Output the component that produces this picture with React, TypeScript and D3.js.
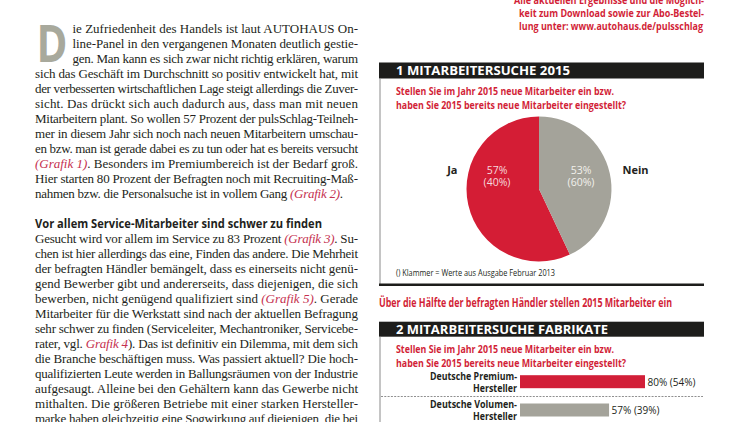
import React from "react";
import * as d3 from "d3";

// ---------- text content ----------
const introLines = [
  "ie Zufriedenheit des Handels ist laut AUTOHAUS On-",
  "line-Panel in den vergangenen Monaten deutlich gestie-",
  "gen. Man kann es sich zwar nicht richtig erklären, warum",
  "sich das Geschäft im Durchschnitt so positiv entwickelt hat, mit",
  "der verbesserten wirtschaftlichen Lage steigt allerdings die Zuver-",
  "sicht. Das drückt sich auch dadurch aus, dass man mit neuen",
  "Mitarbeitern plant. So wollen 57 Prozent der pulsSchlag-Teilneh-",
  "mer in diesem Jahr sich noch nach neuen Mitarbeitern umschau-",
  "en bzw. man ist gerade dabei es zu tun oder hat es bereits versucht",
  "{(Grafik 1)}. Besonders im Premiumbereich ist der Bedarf groß.",
  "Hier starten 80 Prozent der Befragten noch mit Recruiting-Maß-",
  "nahmen bzw. die Personalsuche ist in vollem Gang {(Grafik 2)}.",
];
const dropCap = "D";
const subheading = "Vor allem Service-Mitarbeiter sind schwer zu finden";
const secondLines = [
  "Gesucht wird vor allem im Service zu 83 Prozent {(Grafik 3)}. Su-",
  "chen ist hier allerdings das eine, Finden das andere. Die Mehrheit",
  "der befragten Händler bemängelt, dass es einerseits nicht genü-",
  "gend Bewerber gibt und andererseits, dass diejenigen, die sich",
  "bewerben, nicht genügend qualifiziert sind {(Grafik 5)}. Gerade",
  "Mitarbeiter für die Werkstatt sind nach der aktuellen Befragung",
  "sehr schwer zu finden (Serviceleiter, Mechantroniker, Servicebe-",
  "rater, vgl. {Grafik 4}). Das ist definitiv ein Dilemma, mit dem sich",
  "die Branche beschäftigen muss. Was passiert aktuell? Die hoch-",
  "qualifizierten Leute werden in Ballungsräumen von der Industrie",
  "aufgesaugt. Alleine bei den Gehältern kann das Gewerbe nicht",
  "mithalten. Die größeren Betriebe mit einer starken Hersteller-",
  "marke haben gleichzeitig eine Sogwirkung auf diejenigen, die bei",
];
const infoLines = [
  "Alle aktuellen Ergebnisse und die Möglich-",
  "keit zum Download sowie zur Abo-Bestel-",
  "lung unter: www.autohaus.de/pulsschlag",
];

// ---------- chart 1 ----------
const chart1Title = "1 MITARBEITERSUCHE 2015";
const questionLines = [
  "Stellen Sie im Jahr 2015 neue Mitarbeiter ein bzw.",
  "haben Sie 2015 bereits neue Mitarbeiter eingestellt?",
];
const pieCategories = ["Ja", "Nein"];
const pieValues = [57, 43];
const pieValueLabels = ["57%", "53%"];
const piePrevLabels = ["(40%)", "(60%)"];
const chart1Note = "() Klammer = Werte aus Ausgabe Februar 2013";
const chart1Caption = "Über die Hälfte der befragten Händler stellen 2015 Mitarbeiter ein";

// ---------- chart 2 ----------
const chart2Title = "2 MITARBEITERSUCHE FABRIKATE";
const barCategories = [
  ["Deutsche Premium-", "Hersteller"],
  ["Deutsche Volumen-", "Hersteller"],
];
const barValues = [80, 57];
const barPrevValues = [54, 39];

// ---------- styling ----------
const INK = "#231f20";
const LINK = "#c5304f";
const RED = "#d21f38";
const PIE_RED = "#d41d35";
const GRAY = "#a4a39a";
const SANS = "'Open Sans', 'Noto Sans', sans-serif";
const SERIF = "'Liberation Serif', 'DejaVu Serif', serif";

function segs(s: string) {
  return s
    .split(/(\{[^}]*\})/)
    .filter(Boolean)
    .map((p) =>
      p.startsWith("{") ? { t: p.slice(1, -1), red: true } : { t: p, red: false }
    );
}

function BodyLine({ text, x, y, w }: { text: string; x: number; y: number; w?: number }) {
  return (
    <text
      x={x}
      y={y}
      fontFamily={SERIF}
      fontSize={13}
      fill={INK}
      textLength={w}
      lengthAdjust="spacing"
    >
      {segs(text).map((s, i) =>
        s.red ? (
          <tspan key={i} fill={LINK} fontStyle="italic">
            {s.t}
          </tspan>
        ) : (
          <tspan key={i}>{s.t}</tspan>
        )
      )}
    </text>
  );
}

export default function App() {
  const W = 750;
  const H = 422;

  // body layout
  const colL = 35;
  const colR = 358;
  const lineH = 15;
  const base0 = 33;
  const capIndent = 72.5;

  // pie
  const cx = 539;
  const cy = 189;
  const r = 72.5;
  const total = d3.sum(pieValues);
  const start = (-2 * Math.PI * pieValues[0]) / total;
  const pie = d3
    .pie<number>()
    .sort(null)
    .startAngle(start)
    .endAngle(start + 2 * Math.PI);
  const arcs = pie(pieValues);
  const arc = d3.arc<d3.PieArcDatum<number>>().innerRadius(0).outerRadius(r);
  const pieColors = [PIE_RED, GRAY];
  const pieTextColors = ["#f6d9dc", "#f2f1ec"];

  // bars
  const x = d3.scaleLinear().domain([0, 100]).range([520, 676.25]);
  const y = d3
    .scalePoint<string>()
    .domain(barCategories.map((c) => c.join(" ")))
    .range([381.7, 410]);
  const barH = 13;
  const barColors = [RED, GRAY];

  return (
    <svg width={W} height={H} style={{ position: "absolute", left: 0, top: 0, background: "#fff" }}>
      <rect x={0} y={0} width={W} height={H} fill="#fff" />

      {/* drop cap */}
      <text
        x={36.5}
        y={62}
        fontFamily={SANS}
        fontWeight={700}
        fontSize={52}
        fill="#a8a99c"
        textLength={31}
        lengthAdjust="spacingAndGlyphs"
      >
        {dropCap}
      </text>

      {introLines.map((l, i) => {
        const xx = i < 3 ? capIndent : colL;
        const last = i === introLines.length - 1;
        return (
          <BodyLine
            key={"a" + i}
            text={l}
            x={xx}
            y={base0 + i * lineH}
            w={last ? 308 : colR - xx}
          />
        );
      })}

      <text
        x={colL}
        y={base0 + 13 * lineH}
        fontFamily={SANS}
        fontWeight={700}
        fontSize={12.5}
        fill={INK}
        textLength={287}
        lengthAdjust="spacingAndGlyphs"
      >
        {subheading}
      </text>

      {secondLines.map((l, i) => (
        <BodyLine key={"b" + i} text={l} x={colL} y={base0 + (14 + i) * lineH} w={colR - colL} />
      ))}

      {/* info text top right */}
      {infoLines.map((l, i) => (
        <text
          key={"inf" + i}
          x={i === 0 ? 514 : 519}
          y={3.8 + i * 13.3}
          fontFamily={SANS}
          fontWeight={700}
          fontSize={11}
          fill={RED}
          textLength={i === 0 ? 190 : i === 1 ? 185 : 184}
          lengthAdjust="spacingAndGlyphs"
        >
          {l}
        </text>
      ))}

      {/* ---------- chart 1 ---------- */}
      <rect x={379} y={62.5} width={325} height={16} fill="#1d1d1b" />
      <text
        x={396}
        y={75}
        fontFamily={SANS}
        fontWeight={700}
        fontSize={12.5}
        fill="#fff"
        textLength={174}
        lengthAdjust="spacingAndGlyphs"
      >
        {chart1Title}
      </text>
      <line x1={380} x2={380} y1={78.5} y2={284} stroke="#8a8a8a" strokeWidth={1} />
      {questionLines.map((l, i) => (
        <text
          key={"q1" + i}
          x={396}
          y={95 + i * 14}
          fontFamily={SANS}
          fontWeight={700}
          fontSize={11}
          fill={RED}
          textLength={i === 0 ? 218 : 230}
          lengthAdjust="spacingAndGlyphs"
        >
          {l}
        </text>
      ))}
      <g transform={`translate(${cx},${cy})`}>
        {arcs.map((a, i) => (
          <path key={i} d={arc(a) || ""} fill={pieColors[i]} />
        ))}
        {arcs.map((a, i) => {
          const side = arc.centroid(a)[0] < 0 ? -1 : 1;
          const lx = side * 42;
          return (
            <g key={"lab" + i}>
              <text
                x={lx}
                y={-15}
                textAnchor="middle"
                fontFamily={SANS}
                fontSize={10.5}
                fill={pieTextColors[i]}
              >
                {pieValueLabels[i]}
              </text>
              <text
                x={lx}
                y={-3}
                textAnchor="middle"
                fontFamily={SANS}
                fontSize={10.5}
                fill={pieTextColors[i]}
              >
                {piePrevLabels[i]}
              </text>
              <text
                x={side * (r + (side < 0 ? 9 : 11))}
                y={-15}
                textAnchor={side < 0 ? "end" : "start"}
                fontFamily={SANS}
                fontWeight={700}
                fontSize={11}
                fill={INK}
              >
                {pieCategories[i]}
              </text>
            </g>
          );
        })}
      </g>
      <text
        x={396}
        y={276}
        fontFamily={SANS}
        fontSize={9.5}
        fill={INK}
        textLength={159}
        lengthAdjust="spacingAndGlyphs"
      >
        {chart1Note}
      </text>
      <rect x={379} y={283.5} width={325} height={2.5} fill="#1d1d1b" />
      <text
        x={379}
        y={306.5}
        fontFamily={SANS}
        fontWeight={700}
        fontSize={11.5}
        fill={RED}
        textLength={293}
        lengthAdjust="spacingAndGlyphs"
      >
        {chart1Caption}
      </text>

      {/* ---------- chart 2 ---------- */}
      <rect x={379} y={321.7} width={325} height={15} fill="#1d1d1b" />
      <text
        x={396}
        y={333.5}
        fontFamily={SANS}
        fontWeight={700}
        fontSize={12.5}
        fill="#fff"
        textLength={212}
        lengthAdjust="spacingAndGlyphs"
      >
        {chart2Title}
      </text>
      <line x1={380} x2={380} y1={336.7} y2={H} stroke="#8a8a8a" strokeWidth={1} />
      {questionLines.map((l, i) => (
        <text
          key={"q2" + i}
          x={396}
          y={353 + i * 13.5}
          fontFamily={SANS}
          fontWeight={700}
          fontSize={11}
          fill={RED}
          textLength={i === 0 ? 218 : 230}
          lengthAdjust="spacingAndGlyphs"
        >
          {l}
        </text>
      ))}
      {barCategories.map((c, i) => {
        const key = c.join(" ");
        const yc = y(key) as number;
        return (
          <g key={"bar" + i}>
            <rect
              x={x(0)}
              y={yc - barH / 2}
              width={x(barValues[i]) - x(0)}
              height={barH}
              fill={barColors[i]}
            />
            <text
              x={x(barValues[i]) + 2.5}
              y={yc + 4}
              fontFamily={SANS}
              fontSize={11}
              fill={INK}
              textLength={48}
              lengthAdjust="spacingAndGlyphs"
            >
              {`${barValues[i]}% (${barPrevValues[i]}%)`}
            </text>
            {c.map((t, j) => (
              <text
                key={j}
                x={517}
                y={yc - 2 + j * 12.3}
                textAnchor="end"
                fontFamily={SANS}
                fontWeight={700}
                fontSize={10.5}
                fill={INK}
                textLength={j === 0 ? 87 : 44}
                lengthAdjust="spacingAndGlyphs"
              >
                {t}
              </text>
            ))}
          </g>
        );
      })}
      <line
        x1={381}
        x2={703}
        y1={396.5}
        y2={396.5}
        stroke="#8f8f8f"
        strokeWidth={1}
        strokeDasharray="2,1.3"
      />
    </svg>
  );
}
